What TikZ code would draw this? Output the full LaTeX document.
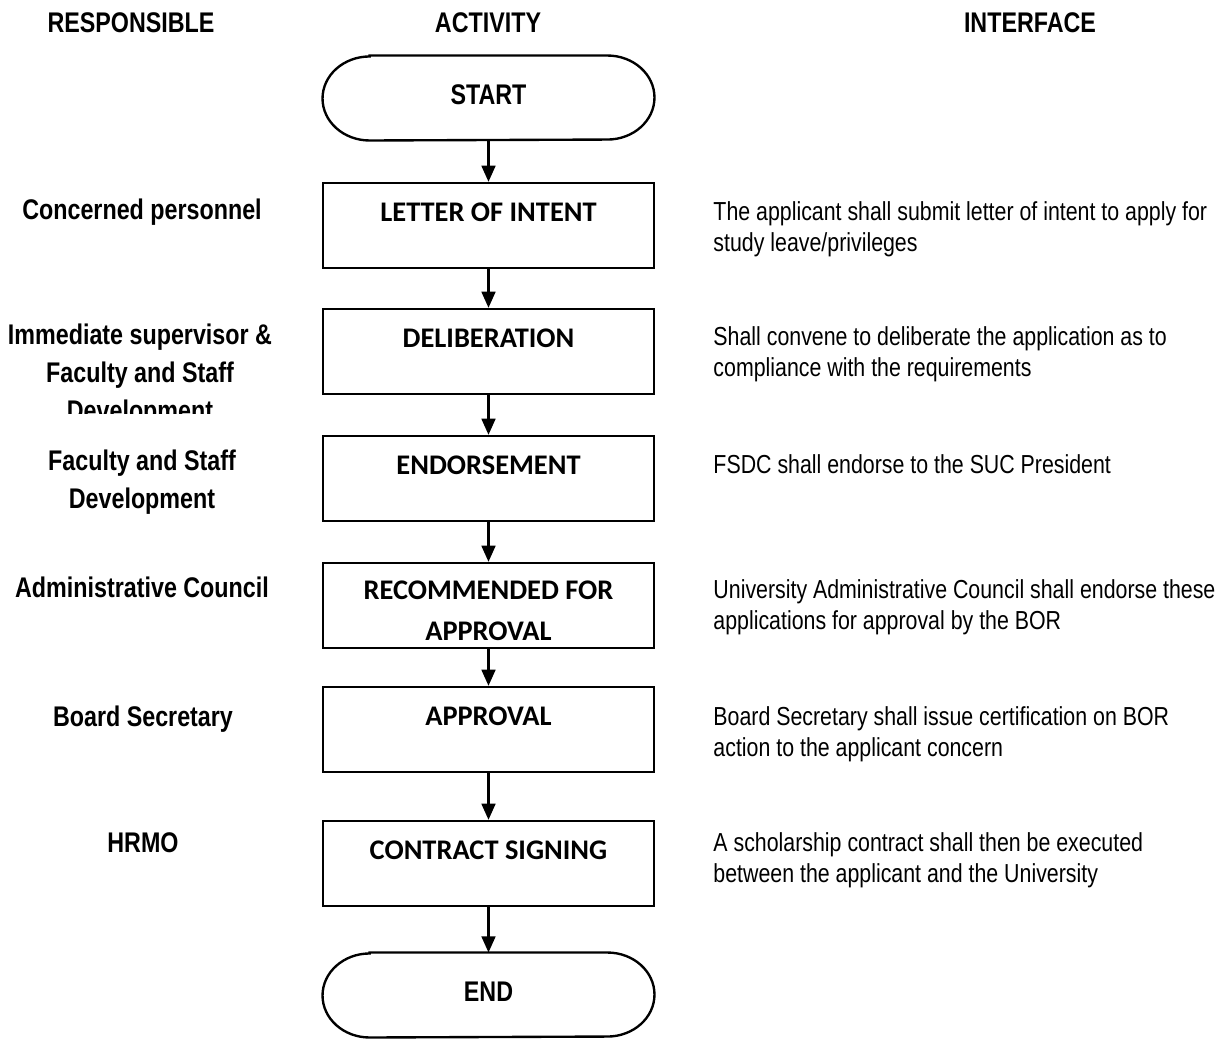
\documentclass[tikz,border=0pt]{standalone}
\usepackage{fontspec}
\setmainfont{Liberation Sans}
\newfontfamily\narrowfont[FakeStretch=0.82]{Liberation Sans}
\newfontfamily\calfont{Carlito}
\usetikzlibrary{arrows.meta}

\begin{document}
\begin{tikzpicture}[x=0.4225pt,y=-0.4225pt,
  flow/.style={line width=1pt,-{Triangle[width=5.8pt,length=6.8pt]}},
  stepbox/.style={draw,line width=1pt,minimum width=139.85pt,minimum height=35.9pt,
    inner sep=0pt,align=center,font=\calfont\bfseries\fontsize{12}{17.3}\selectfont},
  stepone/.style={stepbox,text height=9pt,text depth=12.6pt},
  terminal/.style={minimum width=139.85pt,minimum height=35.5pt,inner sep=0pt,
    text height=9pt,text depth=3.8pt,
    font=\narrowfont\bfseries\fontsize{12}{14}\selectfont},
  terminaledge/.style={line width=1pt},
  header/.style={inner sep=0pt,anchor=north,font=\narrowfont\bfseries\fontsize{12}{16}\selectfont},
  who/.style={inner sep=0pt,anchor=north,align=center,font=\narrowfont\bfseries\fontsize{12}{16}\selectfont},
  what/.style={inner sep=0pt,anchor=north west,align=left,font=\narrowfont\fontsize{11}{13.1}\selectfont}
]
\fill[white] (0,0) rectangle (1224,1039);
\useasboundingbox (0,0) rectangle (1224,1039);

% column headings
\node[header] (hresp) at (131,11.8) {RESPONSIBLE};
\node[header] (hact)  at (488,12.5) {ACTIVITY};
\node[header] (hint)  at (1030,11.8) {INTERFACE};

% terminals
\node[terminal] (start) at (488.5,98) {START};
\node[terminal] (stop)  at (488.5,995) {END};
\foreach \t in {start,stop}{
  \draw[terminaledge] ([xshift=19.9pt]\t.north west) -- ([xshift=-19.9pt]\t.north east)
    arc[start angle=90,end angle=-90,x radius=19.9pt,y radius=17.75pt]
    -- ([xshift=19.9pt]\t.south west)
    arc[start angle=270,end angle=90,x radius=19.9pt,y radius=17.75pt] -- cycle;
}

% process steps
\node[stepone] (s1) at (488.5,225.5) {LETTER OF INTENT};
\node[stepone] (s2) at (488.5,351.5) {DELIBERATION};
\node[stepone] (s3) at (488.5,478.5) {ENDORSEMENT};
\node[stepbox] (s4) at (488.5,605.5) {\rule{0pt}{12.5pt}RECOMMENDED FOR\\APPROVAL};
\node[stepone] (s5) at (488.5,729.5) {APPROVAL};
\node[stepone] (s6) at (488.5,863.5) {CONTRACT SIGNING};

% flow
\draw[flow] (start.south) -- (s1.north);
\draw[flow] (s1.south) -- (s2.north);
\draw[flow] (s2.south) -- (s3.north);
\draw[flow] (s3.south) -- (s4.north);
\draw[flow] (s4.south) -- (s5.north);
\draw[flow] (s5.south) -- (s6.north);
\draw[flow] (s6.south) -- (stop.north);

% responsible parties
\node[who] (r1) at (142,198.8) {Concerned personnel};
\begin{scope}
  \clip (0,300) rectangle (310,413);
  \node[who] (r2) at (140,323.8) {Immediate supervisor \&\\Faculty and Staff\\Development};
\end{scope}
\node[who] (r3) at (142,449.8) {Faculty and Staff\\Development};
\node[who] (r4) at (142,576.8) {Administrative Council};
\node[who] (r5) at (143,705.8) {Board Secretary};
\node[who] (r6) at (143,831.8) {HRMO};

% interfaces
\node[what] (i1) at (713,201.5) {The applicant shall submit letter of intent to apply for\\study leave/privileges};
\node[what] (i2) at (713,326.5) {Shall convene to deliberate the application as to\\compliance with the requirements};
\node[what] (i3) at (713,454.5) {FSDC shall endorse to the SUC President};
\node[what] (i4) at (713,579.5) {University Administrative Council shall endorse these\\applications for approval by the BOR};
\node[what] (i5) at (713,706.5) {Board Secretary shall issue certification on BOR\\action to the applicant concern};
\node[what] (i6) at (713,832.5) {A scholarship contract shall then be executed\\between the applicant and the University};
\end{tikzpicture}
\end{document}
